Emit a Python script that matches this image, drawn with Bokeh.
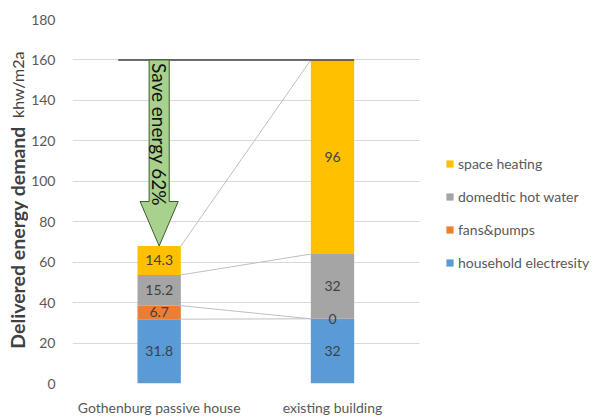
import numpy as np
from bokeh.plotting import figure
from bokeh.layouts import row
from bokeh.models import (ColumnDataSource, Range1d, FixedTicker, Legend, LegendItem,
                          Label)
from bokeh.core.properties import value
from bokeh.embed import file_html
from bokeh.resources import INLINE

# ---- data ----
categories = ["Gothenburg passive house", "existing building"]
household_electresity = [31.8, 32]
fans_pumps = [6.7, 0]
domedtic_hot_water = [15.2, 32]
space_heating = [14.3, 96]
series_names = ["household electresity", "fans&pumps", "domedtic hot water", "space heating"]
y_ticks = [0, 20, 40, 60, 80, 100, 120, 140, 160, 180]
arrow_text = "Save energy 62%"
y_title_bold = "Delivered energy demand"
y_title_unit = "khw/m2a"

FONT = "Lato"
colors = ["#5B9BD5", "#ED7D31", "#A5A5A5", "#FFC000"]
keys = ["household", "fans", "hotwater", "space"]

xpos = [i + 0.5 for i in range(len(categories))]
src = ColumnDataSource(dict(x=xpos, household=household_electresity, fans=fans_pumps,
                            hotwater=domedtic_hot_water, space=space_heating))

W, H = 596, 418
TW = 28            # width of the y-title strip
FL, FR = 70, 418   # frame left / right of the category area (pixels)
FT, FB = 19, 385   # frame top / bottom (pixels)
n = len(categories)
x_end = n * (W - FL) / (FR - FL)

# ---- y title strip (two text styles); its frame is aligned with the main frame ----
t = figure(width=TW, height=H, output_backend="svg", toolbar_location=None,
           x_range=Range1d(0, TW), y_range=Range1d(H - FB, H - FT),
           x_axis_type=None, y_axis_type=None,
           min_border_left=0, min_border_right=0, min_border_top=FT, min_border_bottom=H - FB)
t.outline_line_color = None
t.text(x=[17], y=[H - 350], text=[y_title_bold], angle=np.pi / 2, text_align="left",
       text_baseline="middle", text_font=value(FONT), text_font_style="bold",
       text_font_size="19.5px", text_color="#404040")
t.text(x=[17], y=[H - 118], text=[y_title_unit], angle=np.pi / 2, text_align="left",
       text_baseline="middle", text_font=value(FONT), text_font_size="16px",
       text_color="#404040")

# ---- main chart ----
p = figure(width=W - TW, height=H, output_backend="svg", toolbar_location=None,
           x_range=Range1d(0, x_end), y_range=Range1d(0, 180),
           min_border_left=FL - TW, min_border_right=0, min_border_top=FT,
           min_border_bottom=H - FB)
p.outline_line_color = None
p.background_fill_color = "white"
p.border_fill_color = "white"

bar_w = 0.25
rends = p.vbar_stack(keys, x="x", width=bar_w, color=colors, line_color=None, source=src)

# series lines (connect top of each series between bars)
vals = np.array([household_electresity, fans_pumps, domedtic_hot_water, space_heating], dtype=float)
cum = np.cumsum(vals, axis=0)
for k in range(vals.shape[0]):
    p.segment(x0=[xpos[0] + bar_w / 2], y0=[cum[k, 0]], x1=[xpos[1] - bar_w / 2], y1=[cum[k, 1]],
              line_color="#BFBFBF", line_width=1)

# value labels
lx, ly, lt = [], [], []
for k in range(vals.shape[0]):
    for j in range(n):
        lx.append(xpos[j])
        ly.append(cum[k, j] - vals[k, j] / 2)
        lt.append("%g" % vals[k, j])
p.text(x=lx, y=ly, text=lt, text_align="center", text_baseline="middle",
       text_font=value(FONT), text_font_size="14px", text_color="#404040")

# line at existing building total
total_old = cum[-1, 1]
total_new = cum[-1, 0]
p.segment(x0=[xpos[0] - 0.236], y0=[total_old], x1=[xpos[1] + bar_w / 2], y1=[total_old],
          line_color="#404040", line_width=1.5)

# arrow
sw, hw, hl = 0.058, 0.11, 22
xc = xpos[0]
ax = [xc - sw, xc + sw, xc + sw, xc + hw, xc, xc - hw, xc - sw]
ay = [total_old, total_old, total_new + hl, total_new + hl, total_new, total_new + hl, total_new + hl]
p.patch(ax, ay, fill_color="#A9D18E", line_color="#3B5E2A", line_width=1)
p.add_layout(Label(x=xc, y=total_old - 1.5, text=arrow_text, angle=-np.pi / 2,
                   text_align="left", text_baseline="middle", text_font=FONT,
                   text_font_size="19px", text_color="#111111"))

# axes
p.xaxis.ticker = FixedTicker(ticks=xpos)
p.xaxis.major_label_overrides = {xpos[i]: categories[i] for i in range(n)}
p.yaxis.ticker = FixedTicker(ticks=y_ticks)
for ax_ in (p.xaxis, p.yaxis):
    ax_.axis_line_color = None
    ax_.major_tick_line_color = None
    ax_.minor_tick_line_color = None
    ax_.major_tick_out = 0
    ax_.major_tick_in = 0
    ax_.major_label_text_font = FONT
    ax_.major_label_text_font_size = "14px"
    ax_.major_label_text_color = "#595959"
p.xaxis.major_label_standoff = 15
p.yaxis.major_label_standoff = 17
p.xgrid.grid_line_color = None
p.ygrid.grid_line_color = "#D9D9D9"
p.ygrid.grid_line_width = 1
p.ygrid.cross_bounds = (0, n)

items = [LegendItem(label=series_names[k], renderers=[rends[k]]) for k in range(3, -1, -1)]
legend = Legend(items=items, location=(373, 111), orientation="vertical",
                glyph_width=9, glyph_height=9, label_height=20, spacing=13,
                label_standoff=4, padding=0, margin=0, border_line_color=None,
                background_fill_alpha=0, label_text_font=FONT, label_text_font_size="14px",
                label_text_color="#595959")
p.add_layout(legend, "center")

layout = row(t, p, spacing=0)
open("out.html", "w").write(file_html(layout, INLINE))
